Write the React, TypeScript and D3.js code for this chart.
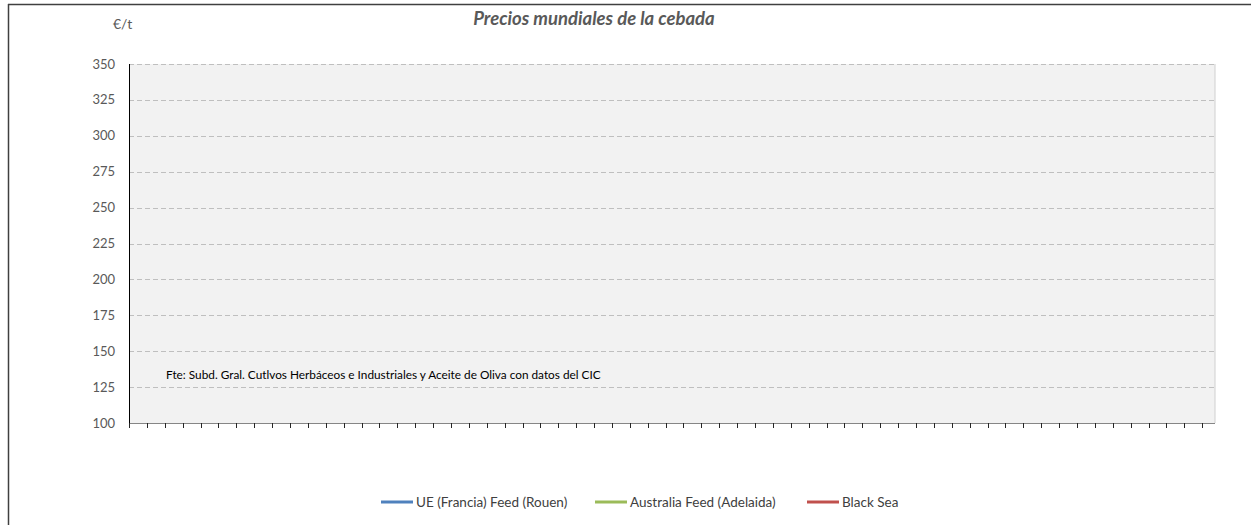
import React from "react";
import * as d3 from "d3";

const title = "Precios mundiales de la cebada";
const unitLabel = "€/t";
const sourceNote = "Fte: Subd. Gral. Cutlvos Herbáceos e Industriales y Aceite de Oliva con datos del CIC";
const yTicks = [100, 125, 150, 175, 200, 225, 250, 275, 300, 325, 350];
const seriesNames = ["UE (Francia) Feed (Rouen)", "Australia Feed (Adelaida)", "Black Sea"];
const seriesColors = ["#4f81bd", "#9bbb59", "#c0504d"];
const dateStart = new Date(2023, 6, 3);
const dateEnd = new Date(2024, 7, 31);
const legendX = [381, 595, 807];

export default function App() {
  const W = 1251, H = 525;
  const left = 129, right = 1215, top = 64, bottom = 423;
  const x = d3.scaleTime().domain([dateStart, dateEnd]).range([left, right]);
  const y = d3.scaleLinear().domain([100, 350]).range([bottom, top]);
  const xTicks = d3.timeMonday.range(dateStart, dateEnd);
  const font = "Lato, 'Open Sans', sans-serif";
  return (
    <svg width={W} height={H} style={{ position: "absolute", left: 0, top: 0, background: "#fff" }} fontFamily={font}>
      <line x1={8} x2={W} y1={4.5} y2={4.5} stroke="#404040" strokeWidth={1.5} />
      <line x1={8.5} x2={8.5} y1={4} y2={H} stroke="#404040" strokeWidth={1.5} />
      <rect x={left} y={top} width={right - left} height={bottom - top} fill="#f2f2f2" />
      <line x1={right} x2={right} y1={top} y2={bottom} stroke="#d0d0d0" strokeWidth={1} />
      {yTicks.filter(t => t > 100).map(t => (
        <line key={t} x1={left} x2={right} y1={Math.round(y(t)) + 0.5} y2={Math.round(y(t)) + 0.5}
          stroke="#bfbfbf" strokeWidth={1} strokeDasharray="5,3" />
      ))}
      {yTicks.map(t => (
        <text key={t} x={115} y={y(t)} dy="0.35em" textAnchor="end" fontSize={13} fill="#595959">{t}</text>
      ))}
      <line x1={left + 0.5} x2={left + 0.5} y1={top} y2={bottom} stroke="#000" strokeWidth={1} />
      <line x1={left} x2={right} y1={bottom + 0.5} y2={bottom + 0.5} stroke="#868686" strokeWidth={1.2} />
      {xTicks.map((d, i) => (
        <line key={i} x1={Math.round(x(d)) + 0.5} x2={Math.round(x(d)) + 0.5} y1={bottom} y2={bottom + 5}
          stroke="#262626" strokeWidth={1} />
      ))}
      <text x={113} y={29} fontSize={14} fill="#595959">{unitLabel}</text>
      <text x={594} y={25} textAnchor="middle" fontSize={18.5} fontWeight="bold" fontStyle="italic" fill="#595959">{title}</text>
      <text x={166} y={379} fontSize={11.8} fill="#000">{sourceNote}</text>
      {seriesNames.map((n, i) => (
        <g key={n}>
          <line x1={legendX[i]} x2={legendX[i] + 32} y1={502} y2={502} stroke={seriesColors[i]} strokeWidth={3} />
          <text x={legendX[i] + 35} y={502} dy="0.35em" fontSize={13.5} fill="#404040">{n}</text>
        </g>
      ))}
    </svg>
  );
}
